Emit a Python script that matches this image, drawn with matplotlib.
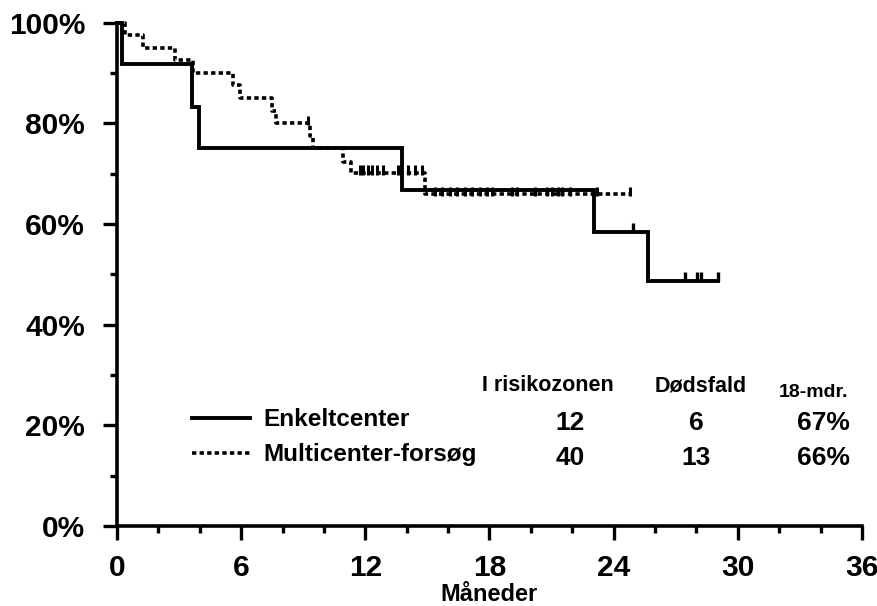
import matplotlib
matplotlib.use("Agg")
import matplotlib.pyplot as plt
import numpy as np

plt.rcParams['font.family'] = ['Liberation Sans', 'DejaVu Sans']
plt.rcParams['font.weight'] = 'bold'

# ---- data ----
solid_label = "Enkeltcenter"
solid_times = [0, 0.25, 3.61, 3.96, 13.75, 23.04, 25.65, 29.03]
solid_surv = [100, 91.7, 83.3, 75.0, 66.7, 58.3, 48.6, 48.6]
solid_cens = [24.93, 27.44, 28.02, 28.2, 29.03]

multi_label = "Multicenter-forsøg"
multi_times = [0, 0.39, 1.25, 2.8, 3.67, 5.6, 5.94, 7.47, 7.7, 9.32, 9.48,
               10.9, 11.3, 14.9, 24.78]
multi_surv = [100, 97.5, 95.0, 92.5, 90.0, 87.5, 85.0, 82.5, 80.0, 77.4, 75.0,
              72.2, 70.2, 65.9, 65.9]
multi_cens = [9.24, 11.74, 11.9, 12.14, 12.3, 12.55, 12.87, 13.59, 14.07, 14.4,
              14.72, 15.36, 15.7, 16.09, 16.43, 16.81, 17.15, 17.54, 17.87,
              18.12, 19.08, 19.32, 20.19, 20.77, 21.01, 21.3, 21.5, 21.88,
              23.19, 24.78]

table_headers = ["I risikozonen", "Dødsfald", "18-mdr."]
at_risk = [12, 40]
deaths = [6, 13]
surv18 = ["67%", "66%"]

x_major = np.arange(0, 37, 6)
x_minor = np.arange(0, 37, 2)
y_major = np.arange(0, 101, 20)
y_minor = np.arange(10, 100, 20)
x_label = "Måneder"


def step_at(t, times, surv):
    idx = np.searchsorted(np.asarray(times), np.asarray(t), side='right') - 1
    return np.asarray(surv)[idx]


fig = plt.figure(figsize=(8.78, 6.06), dpi=100)
ax = fig.add_axes([117 / 878, 1 - 526 / 606, 745 / 878, (526 - 22.5) / 606])

l1, = ax.step(solid_times, solid_surv, where='post', color='black', lw=2.8,
              clip_on=False, label=solid_label, solid_joinstyle='miter')
l2, = ax.step(multi_times, multi_surv, where='post', color='black', lw=2.6,
              linestyle=(0, (1.2, 0.9)), clip_on=False, label=multi_label)

sc = step_at(solid_cens, solid_times, solid_surv)
ax.vlines(solid_cens, sc, sc + 1.8, color='black', lw=2.4)
mc = step_at(multi_cens, multi_times, multi_surv)
ax.vlines(multi_cens, mc - 0.4, mc + 1.5, color='black', lw=2.2)

ax.set_xlim(0, 36)
ax.set_ylim(0, 100)
ax.set_xticks(x_major)
ax.set_xticks(x_minor, minor=True)
ax.set_yticks(y_major)
ax.set_yticks(y_minor, minor=True)
ax.set_yticklabels([f"{v}%" for v in y_major])
ax.tick_params(which='major', direction='out', length=10, width=2.4,
               labelsize=21.5, pad=10)
ax.tick_params(axis='y', which='major', pad=13)
ax.tick_params(which='minor', direction='out', length=5, width=2.4)
for s in ['top', 'right']:
    ax.spines[s].set_visible(False)
for s in ['left', 'bottom']:
    ax.spines[s].set_linewidth(2.6)
ax.set_xlabel(x_label, fontsize=17, fontweight='bold', labelpad=1)

leg = ax.legend(handles=[l1, l2], loc='upper left',
                bbox_to_anchor=(0.1007, 0.234), frameon=False,
                prop={'weight': 'bold', 'size': 17.5}, handlelength=2.4,
                handletextpad=0.55, labelspacing=0.5, borderpad=0,
                borderaxespad=0)

# table (baselines)
ax.text(20.8, 26.8, table_headers[0], ha='center', va='baseline', fontsize=15.5)
ax.text(28.2, 26.8, table_headers[1], ha='center', va='baseline', fontsize=15.5)
ax.text(35.35, 25.6, table_headers[2], ha='right', va='baseline', fontsize=14)
row_y = [19.07, 12.1]
for i in range(2):
    ax.text(21.9, row_y[i], str(at_risk[i]), ha='center', va='baseline', fontsize=19)
    ax.text(28.0, row_y[i], str(deaths[i]), ha='center', va='baseline', fontsize=19)
    ax.text(35.4, row_y[i], surv18[i], ha='right', va='baseline', fontsize=19)

fig.savefig("out.png", dpi=100)
